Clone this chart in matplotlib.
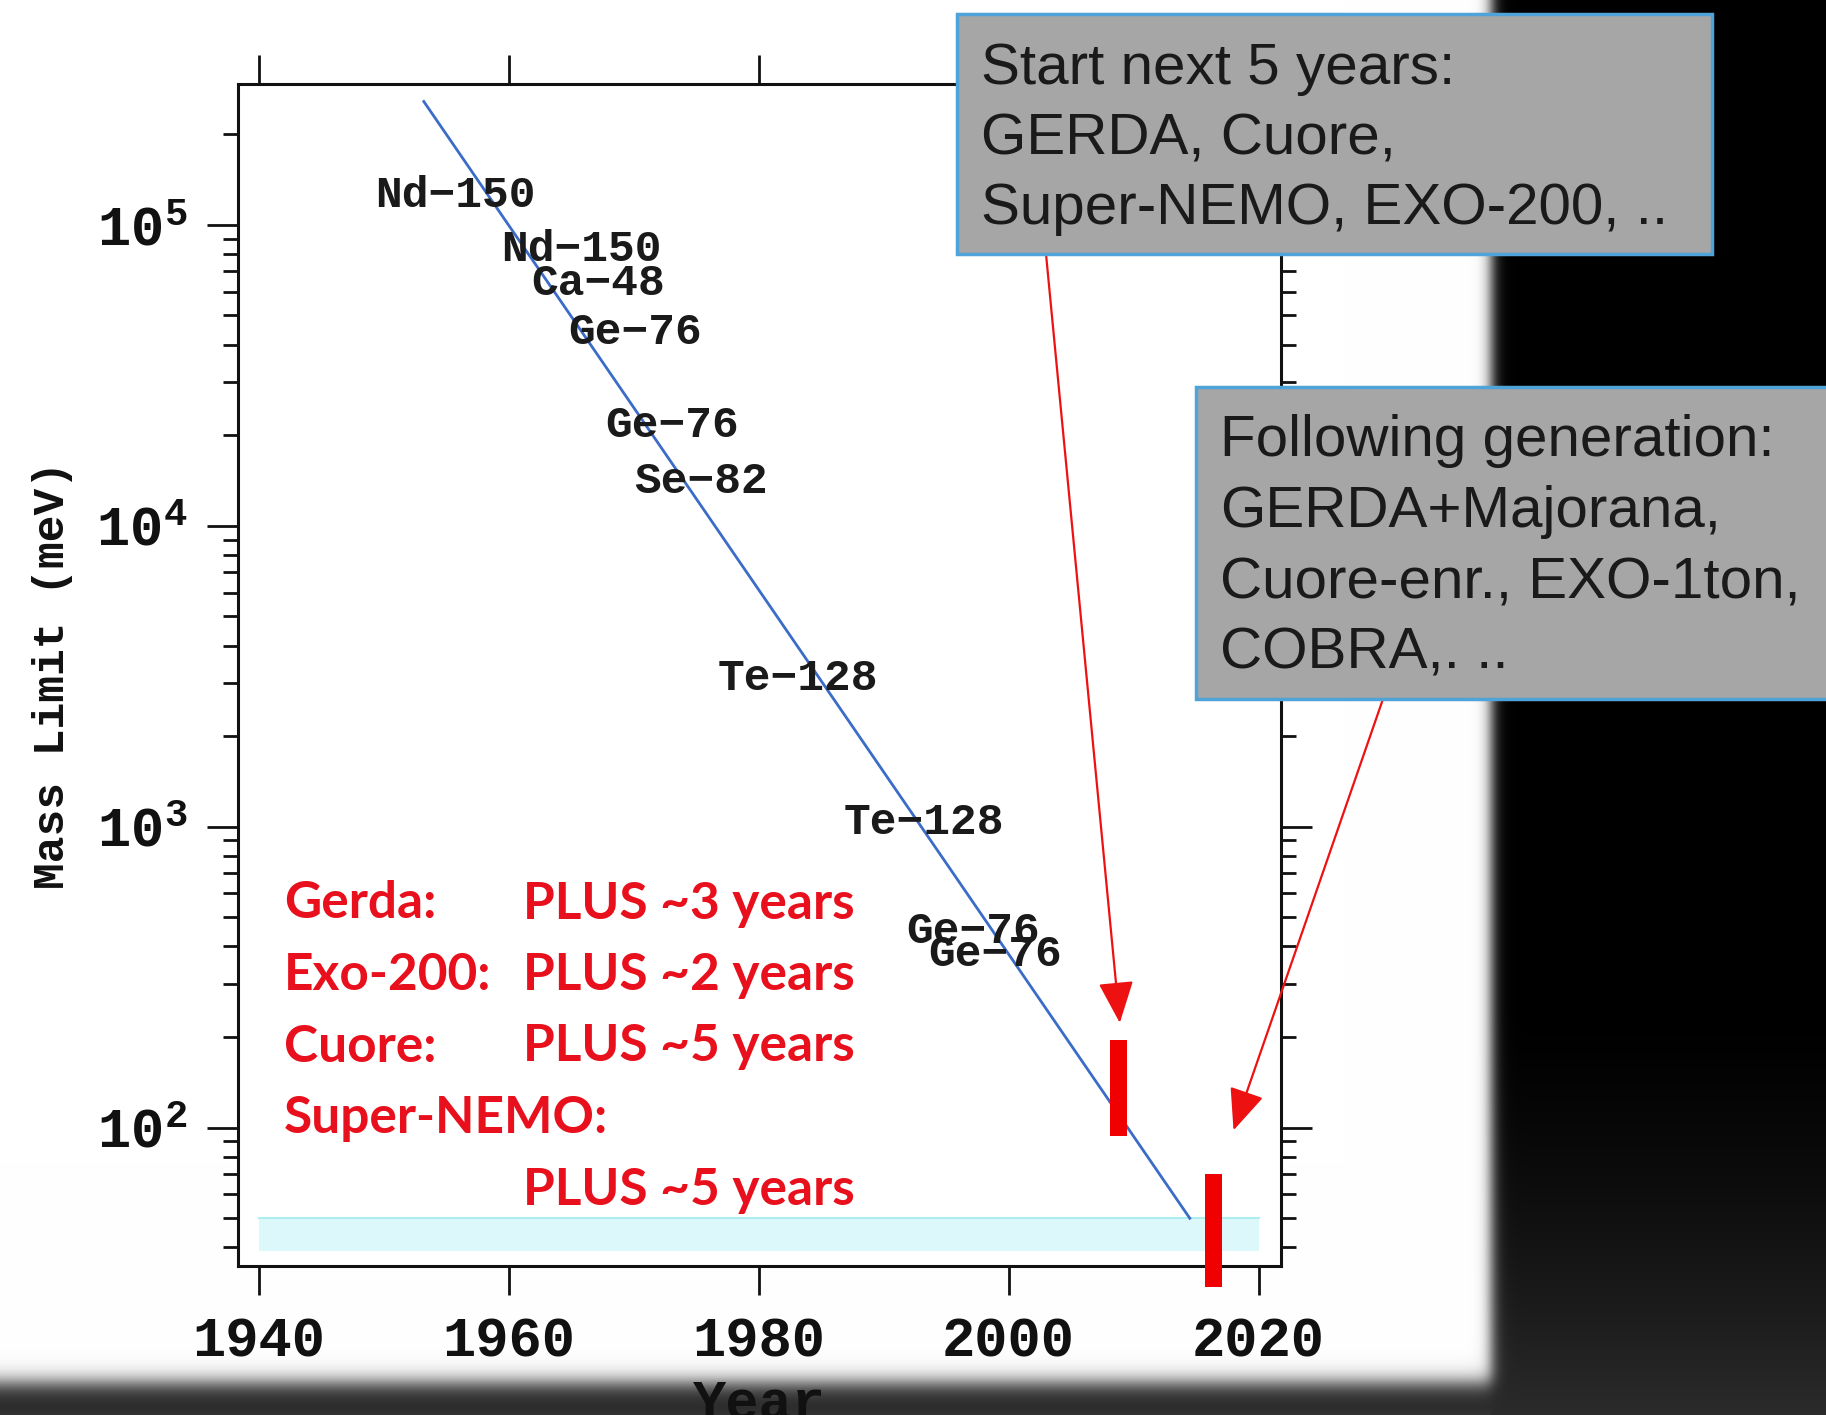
import numpy as np
import matplotlib
matplotlib.use("Agg")
import matplotlib.pyplot as plt
from matplotlib.patches import Rectangle
from matplotlib.ticker import FuncFormatter, LogLocator, NullFormatter, NullLocator

# fitted trend of the mass limit over time
trend_years = [1953.2, 2014.5]
trend_mass = [2.57e5, 50]

# isotope labels placed along the trend
iso_names = ["Nd−150", "Nd−150", "Ca−48", "Ge−76", "Ge−76", "Se−82",
             "Te−128", "Te−128", "Ge−76", "Ge−76"]
iso_years = [1949.3, 1959.4, 1961.8, 1964.8, 1967.7, 1970.0,
             1976.7, 1986.8, 1991.8, 1993.6]
iso_mass = [1.25e5, 8.3e4, 6.4e4, 4.4e4, 2.16e4, 1.40e4, 3100, 1035, 449, 375]

# light band at the bottom
band_years = [1940, 2020]
band_low = 39
band_high = 50

# reach of the coming experiments
bar_years = [2008.8, 2016.4]
bar_low = [94, 29.5]
bar_high = [195, 70]

year_ticks = [1940, 1960, 1980, 2000, 2020]

run_names = ["Gerda:", "Exo-200:", "Cuore:", "Super-NEMO:", ""]
run_extra = ["PLUS ~3 years", "PLUS ~2 years", "PLUS ~5 years", "", "PLUS ~5 years"]

box1_lines = ["Start next 5 years:", "GERDA, Cuore,", "Super-NEMO, EXO-200, .."]
box2_lines = ["Following generation:", "GERDA+Majorana,", "Cuore-enr., EXO-1ton,", "COBRA,. .."]

plt.rcParams['font.family'] = ['Liberation Mono', 'DejaVu Sans Mono']
plt.rcParams['font.weight'] = 'bold'
plt.rcParams['mathtext.fontset'] = 'custom'
plt.rcParams['mathtext.rm'] = 'Liberation Mono'
plt.rcParams['mathtext.bf'] = 'Liberation Mono:bold'

W, H = 1826, 1415
fig = plt.figure(figsize=(W / 100, H / 100), dpi=100)
fig.patch.set_facecolor('white')

# slide backdrop: white panel, dark frame on right and bottom
yy, xx = np.mgrid[0:H, 0:W]
panel = 1 / (1 + np.exp(-(1491 - xx) / 4.0)) * 1 / (1 + np.exp(-(1382 - yy) / 6.0))
shade = 0.17 * np.clip((yy - 1000) / 415.0, 0, 1) ** 1.5
shade = np.where(xx < 1491, np.maximum(shade, 0.2 * np.clip((yy - 1370) / 45.0, 0, 1)), shade)
img = panel + (1 - panel) * shade
bg = fig.add_axes([0, 0, 1, 1], zorder=0)
bg.imshow(np.dstack([img, img, img]), aspect='auto', interpolation='nearest')
bg.set_axis_off()

ax = fig.add_axes([237.6 / W, 1 - 1266 / H, (1281 - 237.6) / W, (1266 - 83.9) / H], zorder=1)
ax.set_yscale('log')
ax.set_xlim(1938.3, 2021.8)
ax.set_ylim(34.7, 2.94e5)

for s in ax.spines.values():
    s.set_linewidth(2.2)
    s.set_color('#111111')

ax.set_xticks(year_ticks)
ax.xaxis.set_minor_locator(NullLocator())
ax.tick_params(axis='x', which='major', direction='out', length=21, width=2,
               top=True, bottom=True, labeltop=False, pad=15, labelsize=40,
               colors='#111111')
ax.yaxis.set_major_locator(LogLocator(base=10, numticks=10))
ax.yaxis.set_minor_locator(LogLocator(base=10, subs=np.arange(2, 10), numticks=40))
ax.yaxis.set_minor_formatter(NullFormatter())
ax.yaxis.set_major_formatter(FuncFormatter(lambda v, p: r'$\mathbf{10^{%d}}$' % round(np.log10(v))))
ax.tick_params(axis='y', which='major', direction='out', length=22, width=2,
               left=True, right=True, pad=14, labelsize=40, colors='#111111')
ax.tick_params(axis='y', which='minor', direction='out', length=11, width=2,
               left=True, right=True, colors='#111111')

ax.set_ylabel('Mass Limit (meV)', fontsize=32, fontweight='bold', labelpad=17, color='#111111')
ax.set_xlabel('Year', fontsize=40, fontweight='bold', labelpad=7, color='#111111')

ax.fill_between(band_years, band_low, band_high, color='#dcf8fb', lw=0, zorder=1)
ax.plot(band_years, [band_high, band_high], color='#aeeef0', lw=1.5, zorder=1)

ax.plot(trend_years, trend_mass, color='#3b6cc7', lw=2, zorder=2)

for name, x, y in zip(iso_names, iso_years, iso_mass):
    ax.text(x, y, name, fontsize=32, fontweight='bold', va='center', ha='left',
            color='#1a1a1a', zorder=3)

ax.bar(bar_years, np.subtract(bar_high, bar_low), bottom=bar_low, width=1.35,
       color='#f00000', clip_on=False, zorder=4)

arrow = dict(arrowstyle='-|>,head_length=1.3,head_width=0.55', color='#ee1111',
             lw=1.6, mutation_scale=20, shrinkA=0, shrinkB=0)
ax.annotate('', xy=(2008.9, 223), xycoords='data', xytext=(1046, 1161),
            textcoords='figure pixels', arrowprops=arrow, annotation_clip=False)
ax.annotate('', xy=(2018.0, 98), xycoords='data', xytext=(1383, 716),
            textcoords='figure pixels', arrowprops=arrow, annotation_clip=False)

# red notes on running times
red = '#e8101c'
for i, (name, extra) in enumerate(zip(run_names, run_extra)):
    yf = 1 - (904 + i * 71.5) / H
    if name:
        fig.text(284 / W, yf, name, fontsize=37, fontweight='bold', family='Lato',
                 color=red, va='center', ha='left', zorder=4)
    if extra:
        fig.text(523 / W, yf, extra, fontsize=37, fontweight='bold', family='Lato',
                 color=red, va='center', ha='left', zorder=4)

# call-out boxes
gray = '#a6a6a6'
edge = '#4fa3d8'
fig.add_artist(Rectangle((957 / W, 1161 / H), (1712 - 957) / W, (1401 - 1161) / H,
                         transform=fig.transFigure, facecolor=gray, edgecolor=edge,
                         lw=2.5, zorder=5))
fig.add_artist(Rectangle((1196 / W, 716 / H), (1840 - 1196) / W, (1028 - 716) / H,
                         transform=fig.transFigure, facecolor=gray, edgecolor=edge,
                         lw=2.5, zorder=5))
for i, line in enumerate(box1_lines):
    fig.text(981 / W, 1 - (69 + i * 70) / H, line, fontsize=42, fontweight='normal',
             family='Liberation Sans', color='#1a1a1a', va='center', ha='left', zorder=6)
for i, line in enumerate(box2_lines):
    fig.text(1220 / W, 1 - (441 + i * 71) / H, line, fontsize=42, fontweight='normal',
             family='Liberation Sans', color='#1a1a1a', va='center', ha='left', zorder=6)

fig.savefig('out.png', dpi=100)
